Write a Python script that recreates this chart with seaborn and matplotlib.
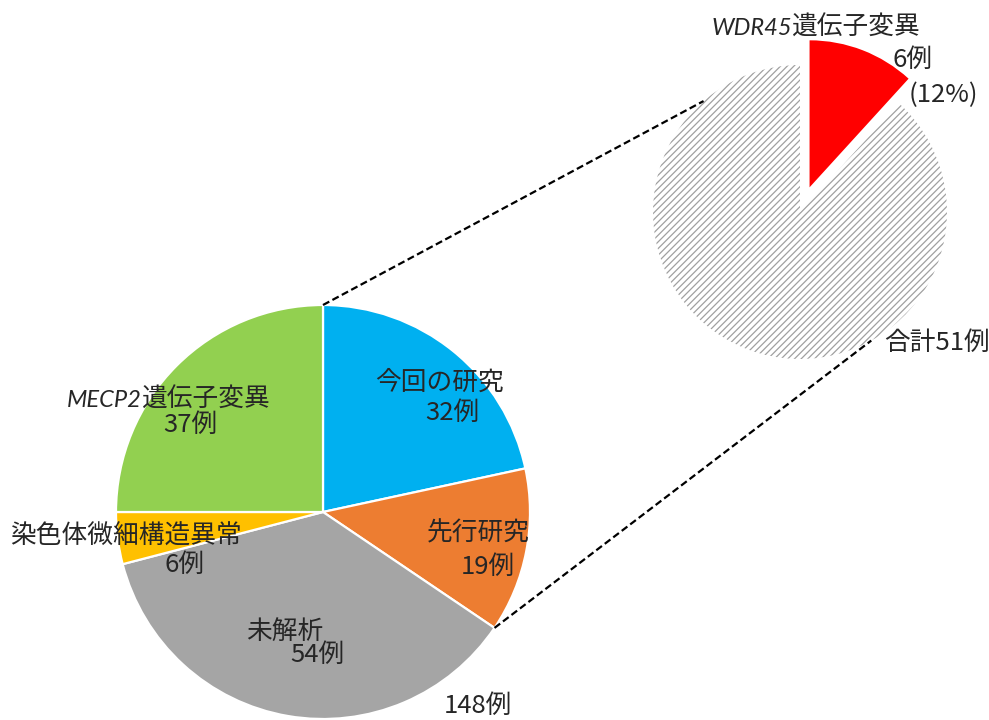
import numpy as np
import matplotlib
matplotlib.use("Agg")
import matplotlib.pyplot as plt
import seaborn as sns

# ---- data ----
main_labels = ["今回の研究", "先行研究", "未解析", "染色体微細構造異常", "MECP2遺伝子変異"]
main_values = [32, 19, 54, 6, 37]
main_total_label = "148例"
sub_labels = ["WDR45遺伝子変異", "その他"]
sub_values = [6, 45]
sub_total_label = "合計51例"
sub_pct_label = "(12%)"

# ---- style ----
sns.set_theme(style="white")
plt.rcParams["font.family"] = ["Noto Sans CJK JP", "DejaVu Sans"]
plt.rcParams["hatch.linewidth"] = 0.9

main_colors = ["#00B0F0", "#ED7D31", "#A5A5A5", "#FFC000", "#92D050"]
sub_colors = ["#FF0000", "#FFFFFF"]
txt_color = "#262626"
FS = 18.5
FS_IT = 17

W, H = 989, 720
fig = plt.figure(figsize=(W / 100, H / 100), dpi=100)
ax = fig.add_axes([0, 0, 1, 1])


def Y(y):
    return H - y


# main pie
mc = (323, Y(512))
mr = 207
ax.pie(main_values, colors=main_colors, startangle=90, counterclock=False,
       center=mc, radius=mr, frame=True,
       wedgeprops=dict(edgecolor="white", linewidth=1.6))

# secondary pie
sc = (800, Y(212))
sr = 147
wedges, _ = ax.pie(sub_values, colors=sub_colors, startangle=90, counterclock=False,
                   center=sc, radius=sr, explode=[0.18 * sr, 0], frame=True,
                   wedgeprops=dict(linewidth=0))
wedges[1].set_hatch("/////")
wedges[1].set_edgecolor("#a0a0a0")
wedges[1].set_linewidth(0)
ax.set_xlim(0, W)
ax.set_ylim(0, H)
ax.set_aspect("equal")
ax.axis("off")

# connector lines
sel = main_values[0] + main_values[1]
a_top = np.deg2rad(90)
a_bot = np.deg2rad(90 - 360 * sel / sum(main_values))
s_top = np.deg2rad(131)
s_bot = np.deg2rad(-61)
ls = (0, (3.2, 1.6))
ax.plot([mc[0] + mr * np.cos(a_top), sc[0] + sr * np.cos(s_top)],
        [mc[1] + mr * np.sin(a_top), sc[1] + sr * np.sin(s_top)],
        color="black", lw=1.6, ls=ls)
ax.plot([mc[0] + mr * np.cos(a_bot), sc[0] + sr * np.cos(s_bot)],
        [mc[1] + mr * np.sin(a_bot), sc[1] + sr * np.sin(s_bot)],
        color="black", lw=1.6, ls=ls)


def t(x, y, s, **kw):
    kw.setdefault("ha", "center")
    kw.setdefault("va", "center")
    kw.setdefault("fontsize", FS)
    ax.text(x, Y(y), s, color=txt_color, **kw)


def count(v):
    return f"{v}例"


# main labels
t(439, 383, main_labels[0])
t(452, 413, count(main_values[0]))
t(478, 533, main_labels[1])
t(488, 567, count(main_values[1]))
t(285, 632, main_labels[2])
t(317, 655, count(main_values[2]))
t(126, 537, main_labels[3])
t(185, 565, count(main_values[3]))
# MECP2 (italic gene name)
gene, rest = main_labels[4][:5], main_labels[4][5:]
t(142, 407, gene, ha="right", va="baseline", family=["Lato", "DejaVu Sans"],
  style="italic", fontsize=FS_IT)
t(142, 407, rest, ha="left", va="baseline")
t(190, 425, count(main_values[4]))
t(478, 706, main_total_label)

# secondary labels
gene2, rest2 = sub_labels[0][:5], sub_labels[0][5:]
t(792, 35, gene2, ha="right", va="baseline", family=["Lato", "DejaVu Sans"],
  style="italic", fontsize=FS_IT)
t(792, 35, rest2, ha="left", va="baseline")
t(913, 60, count(sub_values[0]))
t(943, 95, sub_pct_label)
t(937, 343, sub_total_label)

fig.savefig("out.png", dpi=100, facecolor="white")
